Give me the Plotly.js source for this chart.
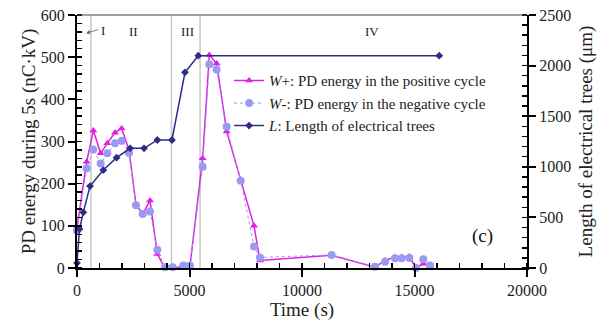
<!DOCTYPE html>
<html>
<head>
<meta charset="utf-8">
<script src="https://cdn.plot.ly/plotly-3.0.1.min.js"></script>
<style>html,body{margin:0;padding:0;background:#fff;}#chart{width:608px;height:322px;}</style>
</head>
<body>
<div id="chart"></div>
<script>
// Time (s) for PD energy measurements
const timeW = [0, 430, 726, 1052, 1348, 1689, 1985, 2311, 2622, 2918, 3244, 3570, 3911, 4252, 4726, 5022, 5585, 5881, 6207, 6652, 7274, 7867, 8133, 11318, 13244, 13689, 14133, 14430, 14770, 15067, 15393, 15689];
// W+: PD energy in the positive cycle (nC·kV)
const wPos = [95, 252, 326, 272, 296, 321, 331, 280, 150, 128, 160, 33, 0, 0, 3, 5, 260, 505, 485, 324, 209, 100, 18, 30, 2, 18, 26, 26, 27, 0, 10, 6];
// W-: PD energy in the negative cycle (nC·kV)
const wNeg = [89, 236, 281, 248, 272, 296, 302, 273, 149, 128, 134, 43, 2, 2, 6, 6, 240, 483, 471, 335, 207, 51, 25, 31, 3, 15, 23, 23, 24, 0, 21, 6];
// L: length of electrical trees (um)
const timeL = [0, 110, 280, 580, 1170, 1760, 2360, 2980, 3570, 4220, 4800, 5390, 16100];
const lenL = [50, 385, 550, 810, 968, 1090, 1183, 1183, 1265, 1265, 1934, 2098, 2098];
// Stage boundaries (s) and labels
const stageBounds = [620, 4200, 5470];
const stageLabels = ["II", "III", "IV"];
const stageLabelX = [2490, 4890, 13110];

const serif = "Liberation Serif";
const cPos = "#e020e0", cNeg = "#9a9af2", cL = "#2d2d86";

const traces = [
  {x: timeW, y: wPos, name: "<i>W</i>+: PD energy in the positive cycle", type: "scatter", mode: "lines+markers",
   line: {color: cPos, width: 1.5}, marker: {symbol: "triangle-up", size: 7, color: cPos}, cliponaxis: false, xaxis: "x", yaxis: "y"},
  {x: timeW, y: wNeg, name: "<i>W</i>-: PD energy in the negative cycle", type: "scatter", mode: "lines+markers",
   line: {color: cNeg, width: 1, dash: "dot"}, marker: {symbol: "circle", size: 8, color: cNeg}, cliponaxis: false, xaxis: "x", yaxis: "y"},
  {x: timeL, y: lenL, name: "<i>L</i>: Length of electrical trees", type: "scatter", mode: "lines+markers",
   line: {color: cL, width: 1.5}, marker: {symbol: "diamond", size: 6, color: cL}, cliponaxis: false, xaxis: "x", yaxis: "y2"}
];

const shapes = stageBounds.map(b => ({type: "line", xref: "x", yref: "paper", x0: b, x1: b, y0: 0, y1: 1,
  line: {color: "#c8c8c8", width: 1.5}, layer: "below"}));
shapes.push({type: "line", xref: "paper", yref: "paper", x0: 0, x1: 1, y0: 1, y1: 1, line: {color: "#444", width: 1}});

const annotations = stageLabels.map((t, i) => ({x: stageLabelX[i], y: 562, xref: "x", yref: "y", text: t, showarrow: false,
  font: {family: serif, size: 13, color: "#222"}}));
annotations.push({x: 400, y: 557, xref: "x", yref: "y", ax: 1000, ay: 566, axref: "x", ayref: "y", text: "", showarrow: true,
  arrowhead: 2, arrowsize: 1, arrowwidth: 0.8, arrowcolor: "#666"});
annotations.push({x: 1160, y: 564, xref: "x", yref: "y", text: "I", showarrow: false, font: {family: serif, size: 13, color: "#222"}});
annotations.push({x: 18000, y: 76, xref: "x", yref: "y", text: "(c)", showarrow: false, font: {family: serif, size: 19, color: "#111"}});

const tickFont = {family: serif, size: 16, color: "#222"};
const titleFont = {family: serif, size: 19, color: "#222"};

const layout = {
  width: 608, height: 322,
  margin: {l: 77, r: 81, t: 15, b: 54},
  paper_bgcolor: "#fff", plot_bgcolor: "#fff",
  font: {family: serif},
  showlegend: true,
  legend: {x: 0.338, y: 0.805, xanchor: "left", yanchor: "top", bgcolor: "rgba(0,0,0,0)", font: {family: serif, size: 15, color: "#222"},
    itemwidth: 30, tracegroupgap: 0},
  xaxis: {range: [0, 20000], dtick: 5000, tick0: 0, showgrid: false, zeroline: false, showline: true, linecolor: "#000", linewidth: 2,
    tickformat: "d",
    ticks: "outside", ticklen: 7, tickwidth: 2, tickcolor: "#000", tickfont: tickFont,
    minor: {dtick: 1000, ticks: "inside", ticklen: 5, tickwidth: 1.5, tickcolor: "#000"},
    title: {text: "Time (s)", font: titleFont, standoff: 0}},
  xaxis2: {range: [0, 20000], dtick: 5000, tick0: 0, overlaying: "x", anchor: "y", side: "bottom", showgrid: false, zeroline: false,
    showline: false, ticks: "inside", ticklen: 7, tickwidth: 2, tickcolor: "#000", showticklabels: false},
  yaxis: {range: [0, 600], dtick: 100, tick0: 0, showgrid: false, zeroline: false, showline: true, linecolor: "#000", linewidth: 2,
    ticks: "outside", ticklen: 7, tickwidth: 2, tickcolor: "#000", tickfont: tickFont,
    minor: {dtick: 20, ticks: "inside", ticklen: 5, tickwidth: 1.5, tickcolor: "#000"},
    title: {text: "PD energy during 5s (nC·kV)", font: titleFont, standoff: 0}},
  yaxis3: {range: [0, 600], dtick: 100, tick0: 0, overlaying: "y", anchor: "x", side: "left", showgrid: false, zeroline: false,
    showline: false, ticks: "inside", ticklen: 7, tickwidth: 2, tickcolor: "#000", showticklabels: false},
  yaxis2: {range: [0, 2500], dtick: 500, tick0: 0, overlaying: "y", side: "right", anchor: "x", showgrid: false, zeroline: false,
    showline: true, linecolor: "#000", linewidth: 2, ticks: "outside", ticklen: 7, tickwidth: 2, tickcolor: "#000", tickfont: tickFont,
    minor: {dtick: 100, ticks: "inside", ticklen: 5, tickwidth: 1.5, tickcolor: "#000"},
    title: {text: "Length of electrical trees (μm)", font: titleFont, standoff: 8}},
  yaxis4: {range: [0, 2500], dtick: 500, tick0: 0, overlaying: "y", side: "right", anchor: "x", showgrid: false, zeroline: false,
    showline: false, ticks: "inside", ticklen: 7, tickwidth: 2, tickcolor: "#000", showticklabels: false},
  shapes: shapes,
  annotations: annotations
};

Plotly.newPlot("chart", traces, layout, {staticPlot: true, displayModeBar: false});
</script>
</body>
</html>
